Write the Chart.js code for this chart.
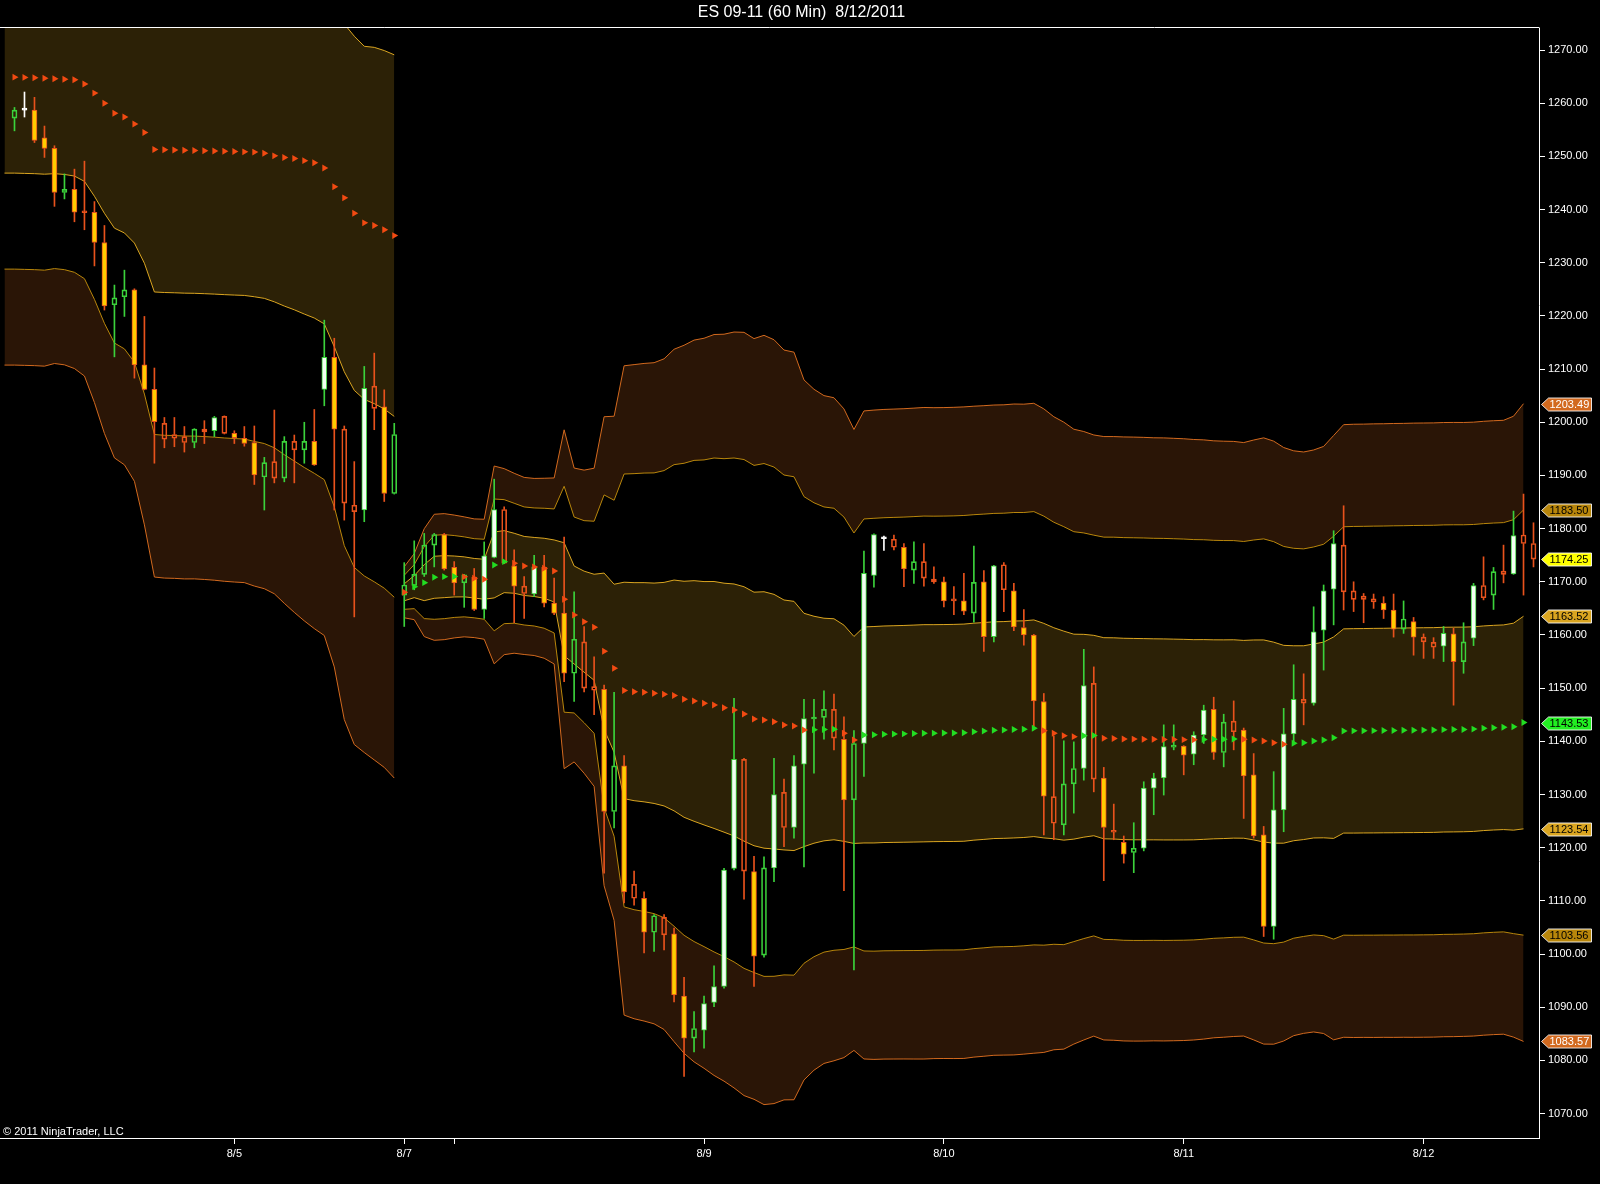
<!DOCTYPE html>
<html>
<head>
<meta charset="utf-8">
<title>ES 09-11 (60 Min)</title>
<script src="https://cdn.jsdelivr.net/npm/chart.js@4.4.0/dist/chart.umd.min.js"></script>
<style>
    html, body { margin: 0; padding: 0; background: #000; }
    canvas { display: block; }
</style>
</head>
<body>
<canvas id="price-chart" width="1600" height="1184"></canvas>
<script>
const chartTitle = 'ES 09-11 (60 Min)  8/12/2011';
const copyright = '\u00A9 2011 NinjaTrader, LLC';

// hourly bars, index 0 = first bar on screen
const openP = [1257.2,1258.7,1258.7,1253.5,1251.5,1243.2,1243.8,1239.6,1239.5,1233.8,
    1222.1,1223.6,1224.9,1210.8,1206.2,1199.8,1197.7,1197.3,1196.2,1198.7,
    1198.4,1201.1,1197.9,1197.0,1196.2,1189.7,1192.6,1189.5,1196.4,1194.8,
    1196.4,1206.2,1212.2,1198.7,1184.4,1183.5,1206.8,1202.9,1186.6,1167.5,
    1169.3,1171.4,1176.9,1178.9,1172.7,1169.8,1170.9,1164.8,1174.6,1183.6,
    1173.0,1169.2,1167.7,1172.7,1166.0,1164.1,1152.8,1158.7,1150.3,1149.8,
    1126.8,1135.4,1113.1,1110.5,1104.1,1106.9,1103.8,1092.1,1084.2,1085.7,
    1090.9,1093.9,1116.1,1136.6,1115.5,1099.8,1116.2,1130.4,1123.8,1135.7,
    1144.2,1144.5,1146.0,1140.4,1129.0,1139.6,1171.2,1178.1,1178.0,1176.5,
    1172.2,1173.8,1170.5,1170.0,1166.7,1166.4,1164.1,1170.0,1159.7,1173.2,
    1168.3,1161.4,1160.0,1147.5,1129.6,1124.3,1132.0,1134.9,1150.9,1133.1,
    1123.1,1121.0,1119.1,1119.9,1131.2,1133.1,1138.9,1139.1,1137.6,1141.2,
    1146.0,1137.9,1143.8,1142.1,1133.7,1122.4,1105.2,1127.1,1141.4,1147.9,
    1147.2,1160.9,1168.6,1176.9,1168.3,1167.3,1166.8,1166.0,1164.7,1161.1,
    1162.5,1159.6,1158.6,1157.9,1160.2,1155.0,1159.4,1169.3,1167.5,1172.0,
    1171.5,1178.8,1177.2];
const highP = [1259.2,1262.1,1261.1,1255.7,1252.0,1246.7,1247.6,1249.1,1241.5,1237.0,
    1225.8,1228.6,1225.1,1219.9,1210.2,1200.9,1200.9,1199.2,1198.8,1200.3,
    1201.1,1201.2,1198.4,1199.2,1199.3,1193.4,1202.3,1197.3,1197.6,1200.0,
    1202.4,1219.2,1215.8,1199.3,1192.6,1210.5,1213.0,1206.1,1199.8,1173.6,
    1177.7,1179.1,1179.1,1179.1,1173.8,1171.4,1172.5,1177.5,1189.3,1184.1,
    1176.0,1171.0,1175.0,1175.0,1170.7,1178.4,1168.1,1161.6,1155.9,1150.6,
    1149.2,1137.3,1115.6,1111.7,1107.4,1107.4,1104.9,1095.6,1089.2,1092.1,
    1097.8,1116.1,1148.1,1136.8,1118.4,1118.3,1136.8,1132.9,1137.3,1147.9,
    1147.9,1149.5,1148.9,1144.6,1142.0,1175.8,1179.0,1178.6,1178.8,1177.2,
    1177.5,1177.2,1172.8,1170.9,1169.1,1171.6,1176.7,1172.1,1173.1,1173.6,
    1169.7,1164.8,1160.1,1149.0,1141.0,1140.1,1139.9,1157.3,1154.0,1135.1,
    1128.2,1122.2,1124.7,1132.4,1134.0,1143.1,1143.1,1139.2,1141.8,1146.8,
    1148.3,1145.1,1147.6,1142.5,1137.7,1124.0,1134.3,1146.2,1154.4,1152.7,
    1165.3,1169.4,1179.6,1184.3,1170.0,1167.8,1167.7,1167.2,1167.7,1166.4,
    1163.3,1160.2,1159.5,1161.6,1161.3,1162.3,1169.7,1174.7,1172.7,1176.9,
    1183.3,1186.5,1181.1];
const lowP = [1254.8,1257.4,1252.6,1249.8,1240.6,1242.0,1237.7,1236.2,1229.4,1221.1,
    1212.3,1219.9,1208.3,1206.1,1192.3,1195.2,1195.4,1194.4,1195.2,1196.0,
    1197.3,1197.8,1196.0,1195.5,1188.3,1183.5,1188.6,1188.8,1188.6,1192.3,
    1191.9,1203.1,1183.5,1181.6,1163.4,1181.3,1198.6,1185.1,1186.5,1161.6,
    1168.5,1171.0,1172.8,1172.2,1167.5,1165.2,1164.6,1163.1,1174.5,1173.4,
    1162.3,1163.1,1167.2,1165.3,1163.8,1151.2,1147.5,1149.3,1145.0,1115.2,
    1123.7,1109.6,1109.2,1100.2,1100.5,1100.8,1091.0,1077.0,1081.6,1082.3,
    1090.1,1093.6,1115.8,1110.3,1093.9,1099.4,1113.6,1120.2,1121.8,1116.4,
    1134.0,1140.4,1138.4,1111.9,1097.0,1133.4,1169.0,1175.9,1176.0,1169.1,
    1169.7,1169.2,1169.7,1165.3,1163.8,1163.8,1162.4,1156.9,1158.7,1164.4,
    1160.8,1158.1,1142.8,1122.4,1121.5,1122.4,1126.5,1132.7,1130.5,1113.8,
    1121.5,1117.1,1115.3,1119.4,1126.2,1129.9,1138.4,1133.7,1135.6,1139.6,
    1136.6,1135.2,1138.4,1125.5,1121.8,1103.3,1102.8,1123.0,1139.6,1143.1,
    1146.8,1153.4,1161.9,1164.7,1164.4,1162.3,1165.0,1163.1,1159.6,1160.3,
    1156.2,1155.6,1155.6,1155.0,1146.8,1152.8,1158.0,1166.6,1164.8,1169.8,
    1171.4,1167.5,1172.8];
const closeP = [1258.7,1258.7,1253.0,1251.5,1243.2,1243.8,1239.5,1239.4,1233.8,1221.9,
    1223.4,1224.9,1210.8,1206.2,1200.1,1196.8,1197.0,1196.2,1198.7,1198.2,
    1200.9,1197.9,1197.1,1196.0,1190.1,1192.4,1189.5,1196.4,1194.8,1196.4,
    1192.0,1212.2,1198.7,1184.8,1183.2,1206.4,1202.6,1186.6,1197.7,1169.4,
    1171.4,1176.9,1178.9,1172.4,1169.8,1171.3,1164.8,1174.9,1183.6,1173.5,
    1169.2,1167.8,1172.8,1166.0,1164.1,1152.8,1159.2,1150.0,1149.6,1126.8,
    1135.4,1111.7,1110.5,1104.1,1107.2,1103.6,1092.3,1084.2,1086.0,1090.7,
    1093.9,1115.8,1136.6,1115.6,1099.6,1116.2,1130.0,1123.8,1135.4,1144.3,
    1144.4,1146.0,1140.6,1129.0,1139.6,1171.6,1178.9,1178.1,1176.5,1172.4,
    1173.8,1170.7,1170.0,1166.4,1166.4,1164.5,1169.9,1159.7,1173.0,1168.5,
    1161.5,1160.0,1147.6,1129.7,1124.6,1132.0,1134.9,1150.5,1132.9,1123.8,
    1122.9,1118.8,1119.9,1131.2,1133.1,1139.0,1139.1,1137.4,1141.2,1145.9,
    1137.9,1143.6,1141.8,1133.5,1122.2,1105.2,1127.1,1141.4,1147.9,1147.2,
    1160.6,1168.3,1177.2,1168.1,1166.7,1166.7,1166.2,1164.7,1161.1,1163.0,
    1159.6,1158.7,1157.7,1160.3,1155.0,1158.7,1169.3,1167.0,1171.9,1171.4,
    1178.7,1177.2,1174.25];
// 1 = heavy bar (drawn with a solid body), 0 = light bar (hollow body)
const heavy = [0,0,1,1,1,0,1,0,1,1, 0,0,1,1,1,0,0,0,0,0, 1,0,1,1,1,0,0,0,0,0,
    1,1,1,0,0,1,0,1,0,0, 0,0,0,1,1,0,1,1,1,0, 1,0,1,1,1,1,0,0,0,1,
    0,1,0,1,0,0,1,1,0,1, 1,1,1,0,1,0,1,0,1,1, 0,0,0,1,0,1,1,0,0,1,
    0,0,0,1,0,1,0,1,1,0, 1,1,1,1,0,0,0,1,0,1, 0,1,0,1,1,1,0,1,1,1,
    1,0,0,1,1,1,1,1,1,0, 1,1,1,0,0,0,0,1,1,0, 1,0,0,1,1,0,1,0,0,0,
    1,0,0];

// weekly VWAP and one standard deviation, prior week (bar -1 .. 38)
const week1Start = -1;
const vwap1 = [1264.9,1264.9,1264.85,1264.8,1264.7,1264.6,1264.5,1264.4,1263.6,1261.9,
    1260.0,1258.1,1257.4,1256.1,1254.5,1251.3,1251.25,1251.2,1251.15,1251.1,
    1251.05,1251.0,1250.95,1250.9,1250.85,1250.8,1250.6,1250.1,1249.8,1249.6,
    1249.2,1248.8,1247.8,1244.3,1242.2,1239.3,1237.5,1237.0,1236.2,1235.1];
const band1 = [18.05,18.05,18.05,18.05,18.05,17.85,17.9,18.1,18.3,19.4,
    20.7,21.6,21.8,22.4,24.6,26.8,26.85,26.85,26.87,26.85,
    26.87,26.9,26.95,26.98,27.0,27.2,27.3,27.45,27.95,28.45,
    28.85,29.2,29.3,30.1,32.7,33.3,33.2,33.5,33.7,34.0];

// current week (bar 39 .. 151)
const week2Start = 39;
const vwap2 = [1168.03,1169.09,1169.84,1170.85,1170.97,1171.0,1170.93,1170.67,1170.48,1173.17,
    1173.79,1173.49,1172.98,1172.79,1172.55,1172.04,1166.72,1163.76,1162.5,1161.45,
    1156.94,1153.74,1149.57,1149.34,1149.23,1149.04,1148.87,1148.63,1147.91,1147.59,
    1147.16,1146.84,1146.33,1145.9,1145.15,1144.21,1144.02,1143.7,1143.08,1142.89,
    1142.14,1142.18,1142.22,1142.27,1141.52,1140.26,1141.2,1141.24,1141.33,1141.37,
    1141.41,1141.46,1141.52,1141.54,1141.56,1141.58,1141.63,1141.82,1141.95,1142.1,
    1142.14,1142.23,1142.29,1142.46,1142.01,1141.52,1141.07,1140.88,1141.05,1141.09,
    1140.58,1140.55,1140.45,1140.42,1140.4,1140.38,1140.36,1140.34,1140.32,1140.3,
    1140.35,1140.38,1140.4,1140.45,1140.38,1140.26,1140.07,1139.75,1139.45,1139.64,
    1139.75,1140.07,1140.26,1140.69,1141.95,1141.97,1141.99,1142.01,1142.03,1142.05,
    1142.07,1142.09,1142.11,1142.13,1142.2,1142.22,1142.24,1142.3,1142.46,1142.57,
    1142.65,1142.76,1143.53];
const band2 = [1.6,2.07,3.38,3.95,3.95,3.85,3.76,3.72,3.76,6.2,
    5.83,5.64,5.55,5.55,5.64,5.83,10.62,9.21,9.5,9.97,
    14.7,15.8,20.35,20.5,20.61,20.72,21.02,21.7,22.19,22.62,
    22.88,23.22,23.41,23.69,23.92,23.84,24.11,23.94,23.5,23.43,
    21.94,21.34,20.93,20.78,20.33,19.46,20.31,20.35,20.36,20.37,
    20.38,20.4,20.42,20.4,20.4,20.41,20.42,20.4,20.39,20.38,
    20.38,20.4,20.37,20.37,20.17,19.84,19.65,19.27,19.07,18.84,
    18.91,18.92,18.93,18.93,18.92,18.9,18.9,18.88,18.86,18.82,
    18.78,18.71,18.68,18.65,18.6,18.8,19.0,18.9,18.6,18.33,
    18.22,18.24,18.4,18.94,19.2,19.22,19.22,19.23,19.23,19.24,
    19.24,19.25,19.25,19.25,19.25,19.25,19.24,19.24,19.24,19.24,
    19.24,19.46,19.987];

const priceTicks = [1070,1080,1090,1100,1110,1120,1130,1140,1150,1160,1170,1180,1190,1200,1210,1220,1230,1240,1250,1260,1270];
const dateTickBars = [22, 39, 44, 69, 93, 117, 141];
const dateTickLabels = ['8/5', '8/7', '', '8/9', '8/10', '8/11', '8/12'];

const FONT = '"Liberation Sans", Arial, sans-serif';
const UP = '#3bd23b', DOWN = '#e8521c', UP_FILL = '#f2fff2', DOWN_FILL = '#ffcc00', DOJI = '#ffffff';
const OUTER = '#d2691e', MIDDLE = '#b8860b', INNER = '#daa520';
const BROWN = 'rgba(210, 105, 30, 0.2)', OLIVE = 'rgba(218, 165, 32, 0.2)';
const DOT_UP = '#22dd22', DOT_DOWN = '#f24a12';

function candleColor(i) {
    if (closeP[i] > openP[i]) return UP;
    if (closeP[i] < openP[i]) return DOWN;
    return DOJI;
}

function bodyFill(i) {
    if (closeP[i] === openP[i]) return DOJI;
    if (!heavy[i]) return 'rgba(0,0,0,0)';
    return closeP[i] > openP[i] ? UP_FILL : DOWN_FILL;
}

function bandSets(startBar, mids, widths) {
    const mults = [3, 2, 1, -1, -2, -3];
    const lineColors = [OUTER, MIDDLE, INNER, INNER, MIDDLE, OUTER];
    const fills = [false, '-1', false, '-1', false, '-1'];
    const fillColors = ['transparent', BROWN, 'transparent', OLIVE, 'transparent', BROWN];
    return mults.map((m, i) => ({
        type: 'line',
        data: mids.map((v, j) => ({ x: startBar + j, y: v + m * widths[j] })),
        borderColor: lineColors[i],
        borderWidth: 1,
        pointRadius: 0,
        tension: 0,
        fill: fills[i],
        backgroundColor: fillColors[i],
        order: 3,
    }));
}

function vwapDots(startBar, mids, skip) {
    const pts = [], colors = [];
    mids.forEach((v, j) => {
        if (j < skip) return;
        pts.push({ x: startBar + j, y: v });
        colors.push(j > 0 && v > mids[j - 1] ? DOT_UP : DOT_DOWN);
    });
    return {
        type: 'line',
        data: pts,
        showLine: false,
        pointStyle: 'triangle',
        pointRotation: 90,
        pointRadius: 4,
        pointBorderWidth: 0,
        pointBackgroundColor: colors,
        pointBorderColor: colors,
        order: 0,
    };
}

const bars = openP.map((o, i) => i);
const upperWicks = bars.map(i => ({ x: i, y: [Math.max(openP[i], closeP[i]), highP[i]] }));
const lowerWicks = bars.map(i => ({ x: i, y: [lowP[i], Math.min(openP[i], closeP[i])] }));
const bodies = bars.map(i => ({ x: i, y: [Math.min(openP[i], closeP[i]), Math.max(openP[i], closeP[i])] }));

const lastBand = band2[band2.length - 1];
const lastVwap = vwap2[vwap2.length - 1];
const priceTags = [
    { value: lastVwap + 3 * lastBand, fill: OUTER, text: '#ffffff' },
    { value: lastVwap + 2 * lastBand, fill: MIDDLE, text: '#000000' },
    { value: closeP[closeP.length - 1], fill: '#ffff00', text: '#000000' },
    { value: lastVwap + lastBand, fill: INNER, text: '#000000' },
    { value: lastVwap, fill: '#22ee22', text: '#000000' },
    { value: lastVwap - lastBand, fill: INNER, text: '#000000' },
    { value: lastVwap - 2 * lastBand, fill: MIDDLE, text: '#000000' },
    { value: lastVwap - 3 * lastBand, fill: OUTER, text: '#ffffff' },
];

const decorations = {
    id: 'decorations',
    afterDraw(chart) {
        const { ctx, chartArea } = chart;
        const y = chart.scales.y;
        ctx.save();
        // frame line on top of the price panel
        ctx.strokeStyle = '#ffffff';
        ctx.lineWidth = 1;
        ctx.beginPath();
        ctx.moveTo(0, chartArea.top - 0.5);
        ctx.lineTo(chartArea.right + 0.5, chartArea.top - 0.5);
        ctx.moveTo(0, chartArea.bottom + 0.5);
        ctx.lineTo(chartArea.left, chartArea.bottom + 0.5);
        ctx.stroke();

        ctx.font = '11px ' + FONT;
        ctx.fillStyle = '#ffffff';
        ctx.textBaseline = 'alphabetic';
        ctx.textAlign = 'left';
        ctx.fillText(copyright, 3, chartArea.bottom - 3);

        // price markers on the right axis
        ctx.textBaseline = 'middle';
        priceTags.forEach(tag => {
            const py = Math.round(y.getPixelForValue(tag.value)) + 0.5;
            const x0 = chartArea.right + 2.5;
            ctx.beginPath();
            ctx.moveTo(x0, py);
            ctx.lineTo(x0 + 7, py - 6.5);
            ctx.lineTo(x0 + 50, py - 6.5);
            ctx.lineTo(x0 + 50, py + 6.5);
            ctx.lineTo(x0 + 7, py + 6.5);
            ctx.closePath();
            ctx.fillStyle = tag.fill;
            ctx.fill();
            ctx.strokeStyle = 'rgba(255,255,255,0.85)';
            ctx.stroke();
            ctx.fillStyle = tag.text;
            ctx.fillText(tag.value.toFixed(2), x0 + 8, py + 0.5);
        });
        ctx.restore();
    }
};

const ctx = document.getElementById('price-chart').getContext('2d');

new Chart(ctx, {
    type: 'bar',
    data: {
        datasets: [
            vwapDots(week1Start, vwap1, 1),
            vwapDots(week2Start, vwap2, 0),
            {
                type: 'bar',
                data: bodies,
                backgroundColor: bars.map(bodyFill),
                borderColor: bars.map(candleColor),
                borderWidth: 1,
                borderSkipped: false,
                barThickness: 5,
                minBarLength: 2,
                grouped: false,
                order: 1,
            },
            {
                type: 'bar',
                data: upperWicks,
                backgroundColor: bars.map(candleColor),
                borderWidth: 0,
                barThickness: 1,
                grouped: false,
                order: 2,
            },
            {
                type: 'bar',
                data: lowerWicks,
                backgroundColor: bars.map(candleColor),
                borderWidth: 0,
                barThickness: 1,
                grouped: false,
                order: 2,
            },
            ...bandSets(week1Start, vwap1, band1),
            ...bandSets(week2Start, vwap2, band2),
        ],
    },
    options: {
        responsive: false,
        animation: false,
        devicePixelRatio: 1,
        layout: { padding: { left: 3, top: 0, right: 0, bottom: 0 } },
        plugins: {
            legend: { display: false },
            tooltip: { enabled: false },
            title: {
                display: true,
                text: chartTitle,
                color: '#ffffff',
                font: { family: FONT, size: 16, weight: 'normal', lineHeight: 1.2 },
                padding: { top: 3, bottom: 5.8 },
            },
        },
        scales: {
            x: {
                type: 'linear',
                position: 'bottom',
                min: -1.05,
                max: 152.55,
                offset: false,
                afterBuildTicks: scale => {
                    scale.ticks = dateTickBars.map(v => ({ value: v }));
                },
                afterFit: scale => { scale.height = 46; },
                ticks: {
                    color: '#ffffff',
                    font: { family: FONT, size: 11 },
                    padding: 3,
                    maxRotation: 0,
                    autoSkip: false,
                    callback: (value, index) => dateTickLabels[index],
                },
                grid: { display: true, offset: false, drawOnChartArea: false, drawTicks: true, tickLength: 6, color: '#ffffff' },
                border: { display: true, color: '#ffffff', width: 1 },
            },
            y: {
                type: 'linear',
                position: 'right',
                min: 1065.41,
                max: 1274.14,
                afterBuildTicks: scale => {
                    scale.ticks = priceTicks.map(v => ({ value: v }));
                },
                afterFit: scale => { scale.width = 61; },
                ticks: {
                    color: '#ffffff',
                    font: { family: FONT, size: 11 },
                    padding: 3,
                    callback: value => Number(value).toFixed(2),
                },
                grid: { display: true, drawOnChartArea: false, drawTicks: true, tickLength: 6, color: '#ffffff' },
                border: { display: true, color: '#ffffff', width: 1 },
            },
        },
    },
    plugins: [decorations],
});
</script>
</body>
</html>
